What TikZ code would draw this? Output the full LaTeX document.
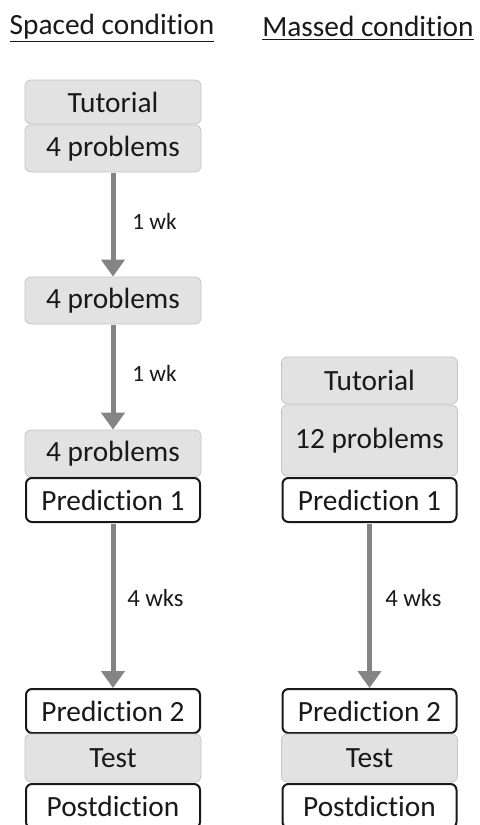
\documentclass[tikz,border=0pt]{standalone}
\usepackage{fontspec}
\setmainfont{Carlito}[RawFeature={-liga}]
\usetikzlibrary{arrows.meta}

\definecolor{boxgray}{RGB}{226,226,226}
\definecolor{boxedge}{RGB}{196,196,196}
\definecolor{arrowgray}{RGB}{132,132,132}
\definecolor{inkblack}{RGB}{25,25,25}

\tikzset{
	graybox/.style={draw=boxedge, line width=0.6pt, fill=boxgray, rounded corners=4.5pt, minimum width=132pt, inner sep=0pt, text=inkblack, font=\fontsize{22}{26}\selectfont},
	whitebox/.style={draw=inkblack, line width=1.5pt, fill=white, rounded corners=4.5pt, minimum width=130.5pt, inner sep=0pt, text=inkblack, font=\fontsize{22}{26}\selectfont},
	gaparrow/.style={draw=arrowgray, line width=3.75pt, -{Triangle[width=17.25pt,length=12.75pt]}, shorten <=0.5pt},
	gaplabel/.style={anchor=west, inner sep=0pt, text=inkblack},
	heading/.style={inner sep=0pt, text=inkblack, font=\fontsize{22}{26}\selectfont}
}

\begin{document}
\begin{tikzpicture}[x=0.75pt,y=0.75pt,yscale=-1,xscale=1]
	\useasboundingbox (0,0) rectangle (479,825);
	\clip (0,0) rectangle (479,825);
	
	% Headings
	\node [heading] (spaced) at (112,28) {\underline{Spaced condition}};
	\node [heading] (massed) at (368,28) {\underline{Massed condition}};
	
	% Spaced column
	\node [graybox, minimum height=33pt] (tutS) at (113,102) {Tutorial};
	\node [graybox, minimum height=35.25pt] (probA) at (113,148.5) {4 problems};
	\node [graybox, minimum height=35.25pt] (probB) at (113,300.5) {4 problems};
	\node [graybox, minimum height=35.25pt] (probC) at (113,453.5) {4 problems};
	\node [whitebox, minimum height=33pt] (predAS) at (113,500) {Prediction 1};
	\node [whitebox, minimum height=33pt] (predBS) at (113,711) {Prediction 2};
	\node [graybox, minimum height=36pt] (testS) at (113,758) {Test};
	\node [whitebox, minimum height=33pt] (postS) at (113,806) {Postdiction};
	
	% Massed column
	\node [graybox, minimum height=35.25pt] (tutM) at (369.5,380.5) {Tutorial};
	\node [graybox, minimum height=53.25pt] (probM) at (369.5,440.5) {12 problems};
	\node [whitebox, minimum height=33pt] (predAM) at (369.5,500) {Prediction 1};
	\node [whitebox, minimum height=33pt] (predBM) at (369.5,711) {Prediction 2};
	\node [graybox, minimum height=36pt] (testM) at (369.5,758) {Test};
	\node [whitebox, minimum height=33pt] (postM) at (369.5,806) {Postdiction};
	
	% Gaps
	\draw [gaparrow] (probA.south) -- (probB.north);
	\draw [gaparrow] (probB.south) -- (probC.north);
	\draw [gaparrow] (predAS.south) -- (predBS.north);
	\draw [gaparrow] (predAM.south) -- (predBM.north);
	
	% Text Node
	\node [gaplabel, font=\fontsize{17.5}{21}\selectfont] (wkA) at (132,221) {1 wk};
	% Text Node
	\node [gaplabel, font=\fontsize{17.5}{21}\selectfont] (wkB) at (132,373) {1 wk};
	% Text Node
	\node [gaplabel, font=\fontsize{18.5}{22}\selectfont] (wksS) at (127,598) {4 wks};
	% Text Node
	\node [gaplabel, font=\fontsize{18.5}{22}\selectfont] (wksM) at (385,598) {4 wks};
	
\end{tikzpicture}
\end{document}
